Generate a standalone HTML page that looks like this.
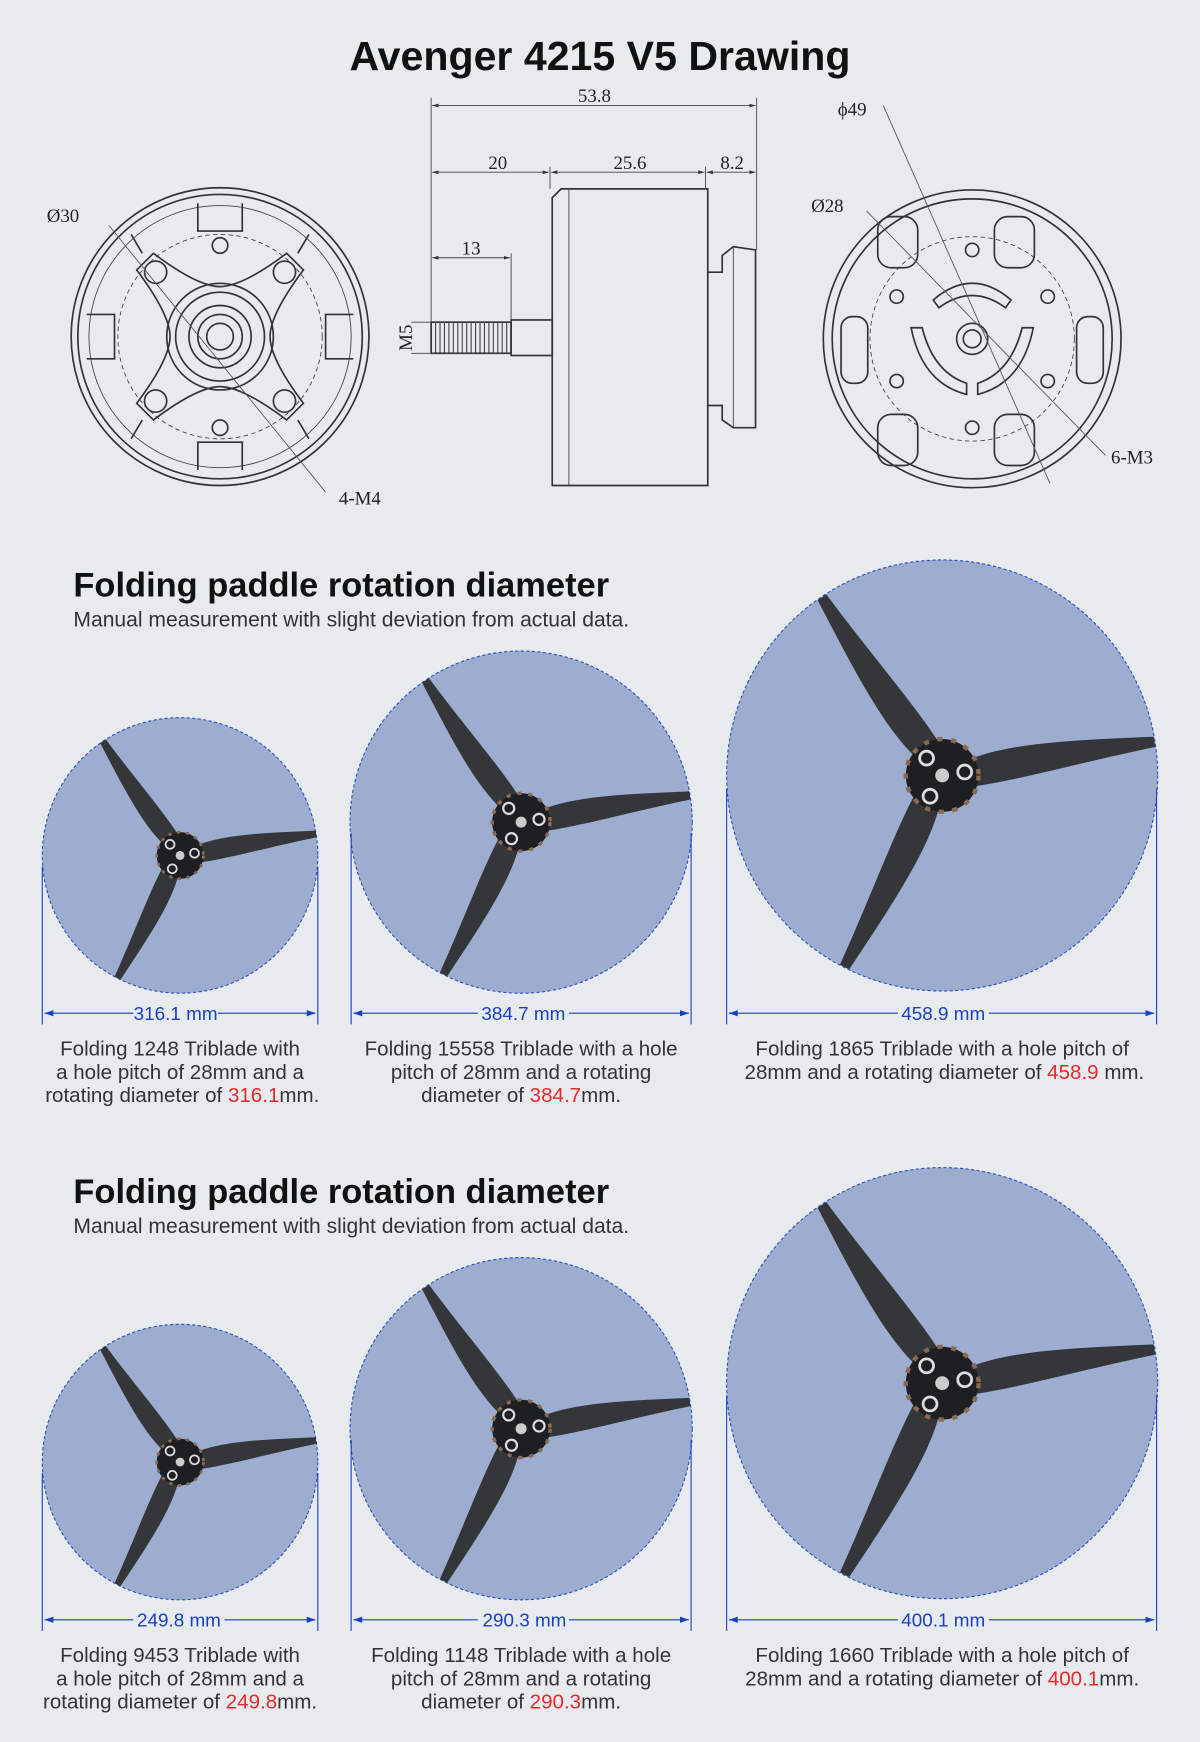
<!DOCTYPE html>
<html><head><meta charset="utf-8"><style>
html,body{margin:0;padding:0;background:#e8ebee;}
svg{display:block}
.t{font-family:"Liberation Sans",sans-serif;}
.s{font-family:"Liberation Serif",serif;font-size:17px;fill:#222}
.ln{stroke:#333;fill:none;stroke-width:1.5}
.th{stroke:#444;fill:none;stroke-width:0.8}
.cap{font-family:"Liberation Sans",sans-serif;font-size:18.5px;fill:#333;text-anchor:middle}
.dim{font-family:"Liberation Sans",sans-serif;font-size:17px;fill:#1a3fc0;text-anchor:middle}
.red{fill:#e8282a}
</style></head><body>
<svg width="1200" height="1742" viewBox="0 0 1080 1568" xmlns="http://www.w3.org/2000/svg">
<defs>
<marker id="a" viewBox="0 0 10 10" refX="10" refY="5" markerWidth="7" markerHeight="7" orient="auto-start-reverse"><path d="M0 2 L10 5 L0 8z" fill="#333"/></marker>
<marker id="b" viewBox="0 0 10 10" refX="10" refY="5" markerWidth="8" markerHeight="8" orient="auto-start-reverse"><path d="M0 1.5 L10 5 L0 8.5z" fill="#1a3fc0"/></marker>
<g id="blade"><path d="M14 -6 C40 -13 80 -8 124 -3 L124 3 C80 5 40 10 14 9 Z" fill="#34363a"/></g>
<g id="prop">
<use href="#blade" transform="rotate(-124)"/>
<use href="#blade" transform="rotate(-9)"/>
<use href="#blade" transform="rotate(117)"/>
<circle r="21" fill="#1e1f22"/>
<circle r="21" fill="none" stroke="#8a6a50" stroke-width="2.5" stroke-dasharray="3 5"/>
<circle r="4" fill="#ccc"/>
<circle cx="-9" cy="-10" r="4" fill="none" stroke="#ddd" stroke-width="1.6"/>
<circle cx="13" cy="-2" r="4" fill="none" stroke="#ddd" stroke-width="1.6"/>
<circle cx="-7" cy="12" r="4" fill="none" stroke="#ddd" stroke-width="1.6"/>
</g>
</defs>
<rect width="1080" height="1568" fill="#e8ebee"/>
<text x="540" y="63" class="t" font-size="37" font-weight="bold" text-anchor="middle" fill="#111">Avenger 4215 V5 Drawing</text>

<g transform="translate(198,303)">
<circle r="134" class="ln"/><circle r="128" class="ln"/><circle r="118" class="th"/>
<circle r="92" class="th" stroke-dasharray="4 3"/>
<g class="ln">
<path d="M-60 -75 Q-20 -45 0 -45 Q20 -45 60 -75 L75 -60 Q45 -20 45 0 Q45 20 75 60 L60 75 Q20 45 0 45 Q-20 45 -60 75 L-75 60 Q-45 20 -45 0 Q-45 -20 -75 -60 Z"/>
<circle r="48"/><circle r="40"/><circle r="28"/><circle r="20"/><circle r="12"/>
<circle cx="-58" cy="-58" r="10"/><circle cx="58" cy="-58" r="10"/><circle cx="-58" cy="58" r="10"/><circle cx="58" cy="58" r="10"/>
<circle cx="0" cy="-82" r="7"/><circle cx="0" cy="82" r="7"/>
<path d="M-20 -120 L-20 -95 L20 -95 L20 -120 M-20 120 L-20 95 L20 95 L20 120 M-120 -20 L-95 -20 L-95 20 L-120 20 M120 -20 L95 -20 L95 20 L120 20"/>
<path d="M-80 -92 L-70 -75 M80 -92 L70 -75 M-80 92 L-70 75 M80 92 L70 75"/>
</g>
<line x1="-100" y1="-100" x2="95" y2="140" stroke="#555" stroke-width="0.8"/>
</g>
<text x="42" y="200" class="s">Ø30</text>
<text x="305" y="454" class="s">4-M4</text>

<g class="ln">
<path d="M497 178 L505 170 L637 170 L637 437 L497 437 Z"/>
<line x1="512" y1="170" x2="512" y2="437" class="th"/>
<path d="M637 245 L650 245 L650 230 L660 222 L680 225 L680 385 L660 385 L650 378 L650 365 L637 365"/>
<line x1="660" y1="222" x2="660" y2="385" class="th"/>
<rect x="460" y="288" width="37" height="32"/>
<rect x="388" y="290" width="72" height="28"/>
</g>
<g stroke="#444" stroke-width="1">
<path d="M392 290 V318 M396 290 V318 M400 290 V318 M404 290 V318 M408 290 V318 M412 290 V318 M416 290 V318 M420 290 V318 M424 290 V318 M428 290 V318 M432 290 V318 M436 290 V318 M440 290 V318 M444 290 V318 M448 290 V318 M452 290 V318 M456 290 V318"/>
</g>
<g stroke="#444" stroke-width="0.8" fill="none">
<line x1="388" y1="88" x2="388" y2="290"/><line x1="681" y1="88" x2="681" y2="225"/>
<line x1="495" y1="150" x2="495" y2="170"/><line x1="635" y1="150" x2="635" y2="170"/>
<line x1="460" y1="228" x2="460" y2="290"/>
<line x1="389" y1="95" x2="680" y2="95" marker-start="url(#a)" marker-end="url(#a)"/>
<line x1="389" y1="155" x2="494" y2="155" marker-start="url(#a)" marker-end="url(#a)"/>
<line x1="496" y1="155" x2="634" y2="155" marker-start="url(#a)" marker-end="url(#a)"/>
<line x1="636" y1="155" x2="680" y2="155" marker-start="url(#a)" marker-end="url(#a)"/>
<line x1="389" y1="232" x2="459" y2="232" marker-start="url(#a)" marker-end="url(#a)"/>
<line x1="370" y1="290" x2="388" y2="290"/><line x1="370" y1="318" x2="388" y2="318"/>
</g>
<text x="535" y="92" class="s" text-anchor="middle">53.8</text>
<text x="448" y="152" class="s" text-anchor="middle">20</text>
<text x="567" y="152" class="s" text-anchor="middle">25.6</text>
<text x="659" y="152" class="s" text-anchor="middle">8.2</text>
<text x="424" y="229" class="s" text-anchor="middle">13</text>
<text x="0" y="0" class="s" text-anchor="middle" transform="translate(371,304) rotate(-90)">M5</text>

<g transform="translate(875,305)">
<circle r="134" class="ln"/><circle r="126" class="ln"/>
<circle r="92" class="th" stroke-dasharray="4 3"/>
<g class="ln">
<rect x="-85" y="-110" width="36" height="46" rx="12"/>
<rect x="20" y="-110" width="36" height="46" rx="12"/>
<rect x="-118" y="-20" width="24" height="60" rx="10"/>
<rect x="94" y="-20" width="24" height="60" rx="10"/>
<rect x="-85" y="68" width="36" height="46" rx="12"/>
<rect x="20" y="68" width="36" height="46" rx="12"/>
<path d="M-35 -35 Q0 -65 35 -35 L30 -28 Q0 -50 -30 -28 Z"/>
<path d="M-55 -10 Q-45 40 -5 50 L-5 40 Q-35 30 -45 -10 Z"/>
<path d="M55 -10 Q45 40 5 50 L5 40 Q35 30 45 -10 Z"/>
<circle r="14"/><circle r="8"/>
<circle cx="0" cy="-80" r="6"/><circle cx="0" cy="80" r="6"/>
<circle cx="-68" cy="-38" r="6"/><circle cx="68" cy="-38" r="6"/>
<circle cx="-68" cy="38" r="6"/><circle cx="68" cy="38" r="6"/>
</g>
<line x1="-80" y1="-210" x2="70" y2="130" stroke="#555" stroke-width="0.8"/>
<line x1="-95" y1="-115" x2="120" y2="105" stroke="#555" stroke-width="0.8"/>
</g>
<text x="754" y="104" class="s">ϕ49</text>
<text x="730" y="191" class="s">Ø28</text>
<text x="1000" y="417" class="s">6-M3</text>

<text x="66" y="537" class="t" font-size="31" font-weight="bold" fill="#111">Folding paddle rotation diameter</text>
<text x="66" y="564" class="t" font-size="19" fill="#333">Manual measurement with slight deviation from actual data.</text>

<circle cx="162" cy="770" r="124" fill="#9cadcf" stroke="#3050c0" stroke-width="1" stroke-dasharray="3 2"/>
<use href="#prop" transform="translate(162,770)"/>
<circle cx="469" cy="740" r="154" fill="#9cadcf" stroke="#3050c0" stroke-width="1" stroke-dasharray="3 2"/>
<use href="#prop" transform="translate(469,740) scale(1.24)"/>
<circle cx="848" cy="698" r="194" fill="#9cadcf" stroke="#3050c0" stroke-width="1" stroke-dasharray="3 2"/>
<use href="#prop" transform="translate(848,698) scale(1.56)"/>
<g stroke="#1a3fc0" stroke-width="1">
<line x1="38" y1="780" x2="38" y2="922"/><line x1="286" y1="780" x2="286" y2="922"/>
<line x1="316" y1="750" x2="316" y2="922"/><line x1="622" y1="750" x2="622" y2="922"/>
<line x1="654" y1="710" x2="654" y2="922"/><line x1="1041" y1="710" x2="1041" y2="922"/>
<line x1="40" y1="912" x2="120" y2="912" marker-start="url(#b)"/><line x1="196" y1="912" x2="284" y2="912" marker-end="url(#b)"/>
<line x1="318" y1="912" x2="430" y2="912" marker-start="url(#b)"/><line x1="512" y1="912" x2="620" y2="912" marker-end="url(#b)"/>
<line x1="656" y1="912" x2="808" y2="912" marker-start="url(#b)"/><line x1="890" y1="912" x2="1039" y2="912" marker-end="url(#b)"/>
</g>
<text x="158" y="918" class="dim">316.1 mm</text>
<text x="471" y="918" class="dim">384.7 mm</text>
<text x="849" y="918" class="dim">458.9 mm</text>
<text class="cap"><tspan x="162" y="950">Folding 1248 Triblade with</tspan><tspan x="162" y="971">a hole pitch of 28mm and a</tspan><tspan x="164" y="992">rotating diameter of <tspan class="red">316.1</tspan>mm.</tspan></text>
<text class="cap"><tspan x="469" y="950">Folding 15558 Triblade with a hole</tspan><tspan x="469" y="971">pitch of 28mm and a rotating</tspan><tspan x="469" y="992">diameter of <tspan class="red">384.7</tspan>mm.</tspan></text>
<text class="cap"><tspan x="848" y="950">Folding 1865 Triblade with a hole pitch of</tspan><tspan x="850" y="971">28mm and a rotating diameter of <tspan class="red">458.9</tspan> mm.</tspan></text>

<text x="66" y="1083" class="t" font-size="31" font-weight="bold" fill="#111">Folding paddle rotation diameter</text>
<text x="66" y="1110" class="t" font-size="19" fill="#333">Manual measurement with slight deviation from actual data.</text>
<circle cx="162" cy="1316" r="124" fill="#9cadcf" stroke="#3050c0" stroke-width="1" stroke-dasharray="3 2"/>
<use href="#prop" transform="translate(162,1316)"/>
<circle cx="469" cy="1286" r="154" fill="#9cadcf" stroke="#3050c0" stroke-width="1" stroke-dasharray="3 2"/>
<use href="#prop" transform="translate(469,1286) scale(1.24)"/>
<circle cx="848" cy="1245" r="194" fill="#9cadcf" stroke="#3050c0" stroke-width="1" stroke-dasharray="3 2"/>
<use href="#prop" transform="translate(848,1245) scale(1.56)"/>
<g stroke="#1a3fc0" stroke-width="1">
<line x1="38" y1="1326" x2="38" y2="1468"/><line x1="286" y1="1326" x2="286" y2="1468"/>
<line x1="316" y1="1296" x2="316" y2="1468"/><line x1="622" y1="1296" x2="622" y2="1468"/>
<line x1="654" y1="1256" x2="654" y2="1468"/><line x1="1041" y1="1256" x2="1041" y2="1468"/>
<line x1="40" y1="1458" x2="120" y2="1458" marker-start="url(#b)"/><line x1="202" y1="1458" x2="284" y2="1458" marker-end="url(#b)"/>
<line x1="318" y1="1458" x2="430" y2="1458" marker-start="url(#b)"/><line x1="512" y1="1458" x2="620" y2="1458" marker-end="url(#b)"/>
<line x1="656" y1="1458" x2="808" y2="1458" marker-start="url(#b)"/><line x1="890" y1="1458" x2="1039" y2="1458" marker-end="url(#b)"/>
</g>
<text x="161" y="1464" class="dim">249.8 mm</text>
<text x="472" y="1464" class="dim">290.3 mm</text>
<text x="849" y="1464" class="dim">400.1 mm</text>
<text class="cap"><tspan x="162" y="1496">Folding 9453 Triblade with</tspan><tspan x="162" y="1517">a hole pitch of 28mm and a</tspan><tspan x="162" y="1538">rotating diameter of <tspan class="red">249.8</tspan>mm.</tspan></text>
<text class="cap"><tspan x="469" y="1496">Folding 1148 Triblade with a hole</tspan><tspan x="469" y="1517">pitch of 28mm and a rotating</tspan><tspan x="469" y="1538">diameter of <tspan class="red">290.3</tspan>mm.</tspan></text>
<text class="cap"><tspan x="848" y="1496">Folding 1660 Triblade with a hole pitch of</tspan><tspan x="848" y="1517">28mm and a rotating diameter of <tspan class="red">400.1</tspan>mm.</tspan></text>
</svg>
</body></html>
